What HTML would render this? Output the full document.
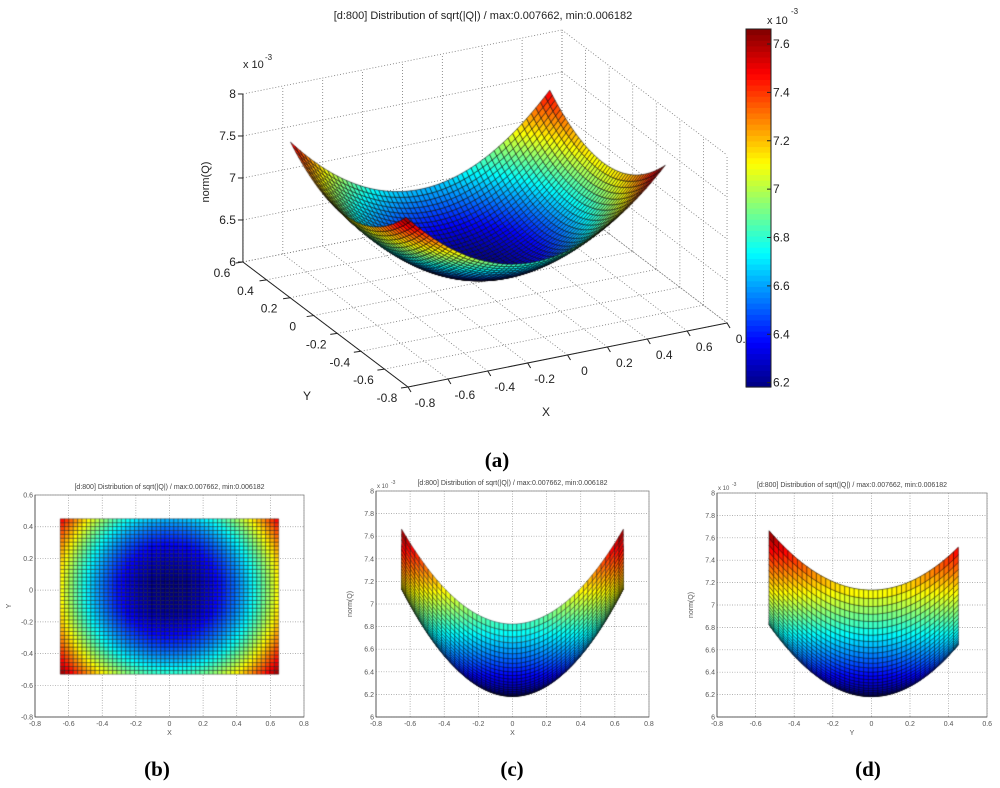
<!DOCTYPE html>
<html><head><meta charset="utf-8">
<style>
html,body{margin:0;padding:0;background:#fff;}
#wrap{position:relative;width:1000px;height:788px;overflow:hidden;font-family:"Liberation Sans",sans-serif;}
svg,canvas{position:absolute;left:0;top:0;}
</style></head>
<body>
<div id="wrap">
<svg id="back" width="1000" height="788"></svg>
<canvas id="cv" width="1000" height="788"></canvas>
<svg id="front" width="1000" height="788"></svg>
</div>
<script>
// ---- data ----
const xRange = [-0.65, 0.65];
const yRange = [-0.53, 0.45];
const zCoef = [6.182, 2.25, 2.28, -0.93];   // z(1e-3) = c0 + c1 x^2 + c2 y^2 + c3 x^2 y^2
const cLim = [6.182, 7.662];
const xTicks3 = [-0.8,-0.6,-0.4,-0.2,0,0.2,0.4,0.6,0.8];
const yTicks3 = [-0.8,-0.6,-0.4,-0.2,0,0.2,0.4,0.6];
const zTicks3 = [6,6.5,7,7.5,8];
const cbTicks = [6.2,6.4,6.6,6.8,7,7.2,7.4,7.6];
const xTicks2 = [-0.8,-0.6,-0.4,-0.2,0,0.2,0.4,0.6,0.8];
const yTicksB = [-0.8,-0.6,-0.4,-0.2,0,0.2,0.4,0.6];
const zTicks2 = [6,6.2,6.4,6.6,6.8,7,7.2,7.4,7.6,7.8,8];
const yTicksD = [-0.8,-0.6,-0.4,-0.2,0,0.2,0.4,0.6];
const TITLE = "[d:800] Distribution of sqrt(|Q|) / max:0.007662, min:0.006182";

function zf(x,y){return zCoef[0]+zCoef[1]*x*x+zCoef[2]*y*y+zCoef[3]*x*x*y*y;}
function jet(v){
  let t=(v-cLim[0])/(cLim[1]-cLim[0]); t=Math.max(0,Math.min(1,t));
  const f=a=>Math.max(0,Math.min(1,a));
  const r=f(1.5-Math.abs(4*t-3)), g=f(1.5-Math.abs(4*t-2)), b=f(1.5-Math.abs(4*t-1));
  return `rgb(${Math.round(r*255)},${Math.round(g*255)},${Math.round(b*255)})`;
}
const NS="http://www.w3.org/2000/svg";
const back=document.getElementById('back'), front=document.getElementById('front');
function line(par,x1,y1,x2,y2,st,name){
  const l=document.createElementNS(NS,'line');
  l.setAttribute('x1',x1);l.setAttribute('y1',y1);l.setAttribute('x2',x2);l.setAttribute('y2',y2);
  l.setAttribute('stroke',st.c||'#000');l.setAttribute('stroke-width',st.w||1);
  if(st.d)l.setAttribute('stroke-dasharray',st.d);
  
  
  par.appendChild(l);return l;
}
function text(par,x,y,s,size,anchor,name,extra){
  const t=document.createElementNS(NS,'text');
  t.setAttribute('x',x);t.setAttribute('y',y);t.setAttribute('font-size',size);
  t.setAttribute('text-anchor',anchor||'middle');t.setAttribute('fill',(extra&&extra.fill)||'#222');
  t.setAttribute('font-family',(extra&&extra.ff)||'Liberation Sans, sans-serif');
  if(extra&&extra.fw)t.setAttribute('font-weight',extra.fw);
  if(extra&&extra.tr)t.setAttribute('transform',extra.tr);
  t.textContent=s;
  
  
  par.appendChild(t);return t;
}
const fmt=v=>{let s=(Math.round(v*10)/10).toString();return s;};
const ctx=document.getElementById('cv').getContext('2d');

function grid(NX,NY){
  const q=[];
  for(let i=0;i<NX;i++)for(let j=0;j<NY;j++){
    const x0=xRange[0]+(xRange[1]-xRange[0])*i/NX, x1=xRange[0]+(xRange[1]-xRange[0])*(i+1)/NX;
    const y0=yRange[0]+(yRange[1]-yRange[0])*j/NY, y1=yRange[0]+(yRange[1]-yRange[0])*(j+1)/NY;
    const pts=[[x0,y0],[x1,y0],[x1,y1],[x0,y1]].map(p=>[p[0],p[1],zf(p[0],p[1])]);
    const zm=(pts[0][2]+pts[1][2]+pts[2][2]+pts[3][2])/4;
    q.push({pts,zm,xm:(x0+x1)/2,ym:(y0+y1)/2});
  }
  return q;
}
function drawQuads(quads,proj,lw,ea){
  for(const q of quads){
    ctx.beginPath();
    q.pts.forEach((p,k)=>{const s=proj(p);k?ctx.lineTo(s[0],s[1]):ctx.moveTo(s[0],s[1]);});
    ctx.closePath();
    ctx.fillStyle=jet(q.zm);ctx.fill();
    ctx.strokeStyle=`rgba(0,0,0,${ea})`;ctx.lineWidth=lw;ctx.stroke();
  }
}

// ================= (a) 3D =================
function P3(x,y,z){return [408+(x+0.8)*199.4-(y+0.8)*117.9, 387-(x+0.8)*40-(y+0.8)*89.3-(z-6)*84];}
const dot={c:'#777',w:0.8,d:'1,2'};
const gA=document.createElementNS(NS,'g');


back.appendChild(gA);
function L3(a,b,st,n){const p=P3(...a),q=P3(...b);line(gA,p[0],p[1],q[0],q[1],st,n);}
xTicks3.forEach(x=>{L3([x,-0.8,6],[x,0.6,6],dot,'floor-grid-x');L3([x,0.6,6],[x,0.6,8],dot,'back-wall-grid-x');});
yTicks3.forEach(y=>{L3([-0.8,y,6],[0.8,y,6],dot,'floor-grid-y');L3([0.8,y,6],[0.8,y,8],dot,'side-wall-grid-y');});
zTicks3.forEach(z=>{L3([-0.8,0.6,z],[0.8,0.6,z],dot,'back-wall-grid-z');L3([0.8,0.6,z],[0.8,-0.8,z],dot,'side-wall-grid-z');});
const solid={c:'#222',w:1};
L3([-0.8,0.6,6],[-0.8,0.6,8],solid,'z-axis');
L3([-0.8,0.6,6],[-0.8,-0.8,6],solid,'y-axis');
L3([-0.8,-0.8,6],[0.8,-0.8,6],solid,'x-axis');
zTicks3.forEach(z=>{const p=P3(-0.8,0.6,z);line(gA,p[0],p[1],p[0]-5,p[1],solid,'z-tick');
  text(front,p[0]-7,p[1]+4,String(z),12,'end','z-tick-label');});
yTicks3.forEach(y=>{const p=P3(-0.8,y,6);line(gA,p[0],p[1],p[0]-7,p[1]+1,solid,'y-tick');
  text(front,p[0]-21,p[1]+15,fmt(y),12,'middle','y-tick-label');});
xTicks3.forEach(x=>{const p=P3(x,-0.8,6);line(gA,p[0],p[1],p[0]+3,p[1]+5,solid,'x-tick');
  text(front,p[0]+17,p[1]+20,fmt(x),12,'middle','x-tick-label');});
text(front,483,19,TITLE,11,'middle','chart-title-a');
text(front,243,68,'x 10',11,'start','z-scale-label');
text(front,265,60,'-3',8,'start','z-scale-exponent');
text(front,209,182,'norm(Q)',11,'middle','z-axis-title',{tr:'rotate(-90 209 182)'});
text(front,307,400,'Y',12,'middle','y-axis-title');
text(front,546,416,'X',12,'middle','x-axis-title');
{
  const q=grid(56,44);
  q.forEach(o=>o.d=9904*o.xm+16750*o.ym-22522*o.zm);
  q.sort((a,b)=>b.d-a.d);
  drawQuads(q,p=>P3(p[0],p[1],p[2]),0.6,0.9);
}
// colorbar
{
  const g=document.createElementNS(NS,'g');
  
  
  front.appendChild(g);
  const top=29,bot=387,N=64;
  for(let k=0;k<N;k++){
    const r=document.createElementNS(NS,'rect');
    const v=cLim[0]+(cLim[1]-cLim[0])*(k+0.5)/N;
    r.setAttribute('x',746);r.setAttribute('y',bot-(k+1)*(bot-top)/N);
    r.setAttribute('width',25);r.setAttribute('height',(bot-top)/N+0.6);r.setAttribute('fill',jet(v));
    
    
    g.appendChild(r);
  }
  const b=document.createElementNS(NS,'rect');
  b.setAttribute('x',746);b.setAttribute('y',top);b.setAttribute('width',25);b.setAttribute('height',bot-top);
  b.setAttribute('fill','none');b.setAttribute('stroke','#222');
  
  
  g.appendChild(b);
  cbTicks.forEach(v=>{const y=bot-(v-cLim[0])/(cLim[1]-cLim[0])*(bot-top);
    line(g,767,y,771,y,solid,'colorbar-tick');
    text(g,773,y+4,String(v),12,'start','colorbar-tick-label');});
  text(front,767,24,'x 10',11,'start','colorbar-scale-label');
  text(front,791,14,'-3',8,'start','colorbar-scale-exponent');
}
text(front,497,467,'(a)',21,'middle','panel-label-a',{ff:'Liberation Serif, serif',fw:'bold',fill:'#000'});

// ================= 2D panels =================
function panel(name,L,R,T,B,xt,yt,xmap,ymap,xl,yl,scale){
  const g=document.createElementNS(NS,'g');
  
  
  back.appendChild(g);
  const d={c:'#999',w:0.7,d:'1,1.5'};
  xt.forEach(v=>{const x=xmap(v);line(g,x,T,x,B,d,'grid-line-x');
    text(front,x,B+9,fmt(v),7,'middle','x-tick-label',{fill:'#555'});});
  yt.forEach(v=>{const y=ymap(v);line(g,L,y,R,y,d,'grid-line-y');
    text(front,L-2,y+2.5,fmt(v),7,'end','y-tick-label',{fill:'#555'});});
  const r=document.createElementNS(NS,'rect');
  r.setAttribute('x',L);r.setAttribute('y',T);r.setAttribute('width',R-L);r.setAttribute('height',B-T);
  r.setAttribute('fill','none');r.setAttribute('stroke','#888');r.setAttribute('stroke-width',0.8);
  
  
  g.appendChild(r);
  line(g,L,T,L,B,{c:'#444',w:0.8},'y-axis-line');
  line(g,L,B,R,B,{c:'#444',w:0.8},'x-axis-line');
  text(front,(L+R)/2,T-6,TITLE,7,'middle','panel-title',{fill:'#444'});
  text(front,(L+R)/2,B+18,xl,7,'middle','x-axis-title',{fill:'#555'});
  text(front,L-24,(T+B)/2,yl,7,'middle','y-axis-title',{fill:'#555',tr:`rotate(-90 ${L-24} ${(T+B)/2})`});
  if(scale){text(front,L+1,T-3,'x 10',6,'start','scale-label',{fill:'#555'});text(front,L+15,T-7,'-3',5,'start','scale-exponent',{fill:'#555'});}
}
// (b)
const bx=v=>35+(v+0.8)*168.1, by=v=>495+(0.6-v)*158.6;
panel('panel-b',35,304,495,717,xTicks2,yTicksB,bx,by,'X','Y',false);
drawQuads(grid(50,40),p=>[bx(p[0]),by(p[1])],0.5,0.75);
text(front,157,776,'(b)',21,'middle','panel-label-b',{ff:'Liberation Serif, serif',fw:'bold',fill:'#000'});
// (c)
const cx=v=>376+(v+0.8)*170.6, cz=v=>717-(v-6)*113;
panel('panel-c',376,649,491,717,xTicks2,zTicks2,cx,cz,'X','norm(Q)',true);
{const q=grid(50,40);q.sort((a,b)=>b.ym-a.ym);drawQuads(q,p=>[cx(p[0]),cz(p[2])],0.5,0.75);}
text(front,512,776,'(c)',21,'middle','panel-label-c',{ff:'Liberation Serif, serif',fw:'bold',fill:'#000'});
// (d)
const dx=v=>717+(v+0.8)*193, dz=v=>717-(v-6)*112;
panel('panel-d',717,987,493,717,yTicksD,zTicks2,dx,dz,'Y','norm(Q)',true);
{const q=grid(50,40);q.sort((a,b)=>b.xm-a.xm);drawQuads(q,p=>[dx(p[1]),dz(p[2])],0.5,0.75);}
text(front,868,776,'(d)',21,'middle','panel-label-d',{ff:'Liberation Serif, serif',fw:'bold',fill:'#000'});
</script>
</body></html>
